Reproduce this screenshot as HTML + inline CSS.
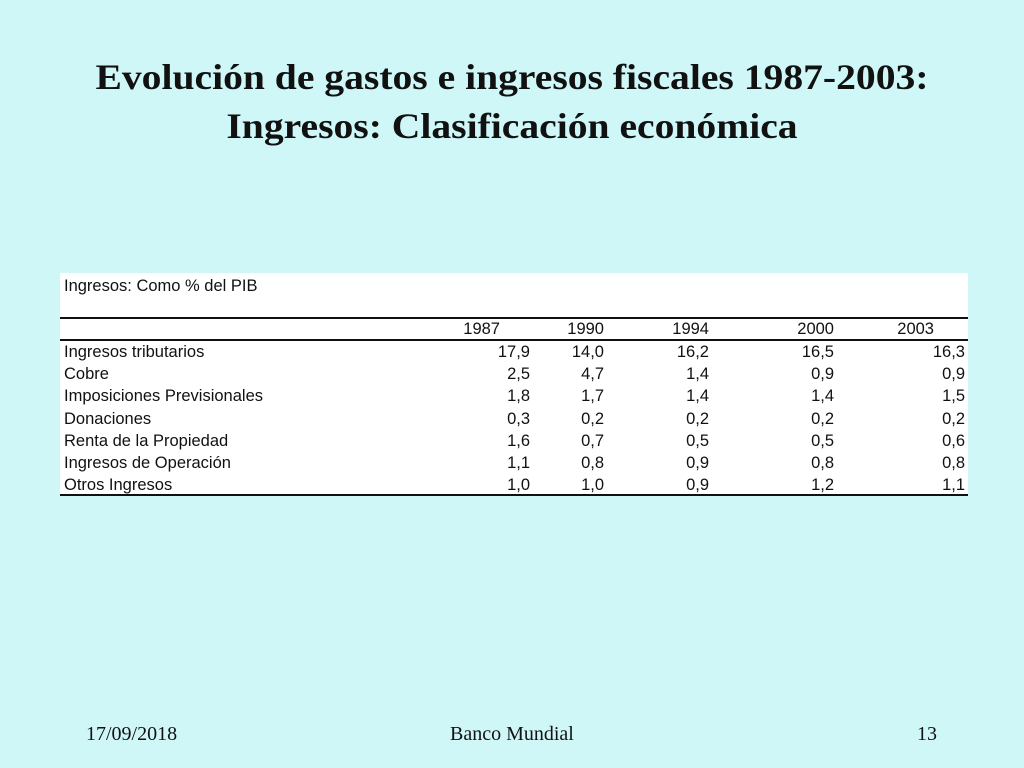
<!DOCTYPE html>
<html><head><meta charset="utf-8"><style>
body{margin:0;width:1024px;height:768px;background:#cff7f8;position:relative;overflow:hidden;font-family:"Liberation Sans",sans-serif}
.t{position:absolute;left:0;width:1024px;text-align:center;font-family:"Liberation Serif",serif;font-weight:bold;font-size:36px;color:#111;transform:scaleX(1.1);transform-origin:512px 0}
.f{position:absolute;top:723px;font-family:"Liberation Serif",serif;font-size:20px;color:#111}
#box{position:absolute;left:60px;top:273px;width:908px;height:222px;background:#fff}
.c{position:absolute;font-size:16.5px;color:#111;white-space:nowrap;line-height:18px}
.ln{position:absolute;left:60px;width:908px;background:#111}
</style></head><body>
<div class="t" style="top:56px">Evolución de gastos e ingresos fiscales 1987-2003:</div>
<div class="t" style="top:105px">Ingresos: Clasificación económica</div>
<div id="box"></div>
<div class="c" style="left:64px;top:277px">Ingresos: Como % del PIB</div>
<div class="ln" style="top:317px;height:2px"></div>
<div class="ln" style="top:339px;height:2px"></div>
<div class="ln" style="top:494px;height:2px"></div>
<div class="f" style="left:86px">17/09/2018</div>
<div class="f" style="left:450px">Banco Mundial</div>
<div class="f" style="left:917px">13</div>
<script>
const years=["1987","1990","1994","2000","2003"];
const rows=["Ingresos tributarios","Cobre","Imposiciones Previsionales","Donaciones","Renta de la Propiedad","Ingresos de Operación","Otros Ingresos"];
const v1987=["17,9","2,5","1,8","0,3","1,6","1,1","1,0"];
const v1990=["14,0","4,7","1,7","0,2","0,7","0,8","1,0"];
const v1994=["16,2","1,4","1,4","0,2","0,5","0,9","0,9"];
const v2000=["16,5","0,9","1,4","0,2","0,5","0,8","1,2"];
const v2003=["16,3","0,9","1,5","0,2","0,6","0,8","1,1"];
const cols=[v1987,v1990,v1994,v2000,v2003];
const yearRight=[500,604,709,834,934];
const valRight=[530,604,709,834,965];
function add(txt,left,right,top,name){
  const d=document.createElement('div');
  d.className='c';d.textContent=txt;d.style.top=top+'px';
  if(right!=null){d.style.right=(1024-right)+'px';}else d.style.left=left+'px';
  
  
  document.body.appendChild(d);
}
years.forEach((y,i)=>add(y,null,yearRight[i],320,'year-header-'+y));
rows.forEach((r,j)=>{
  const top=343+j*22.2;
  add(r,64,null,top,'row-label');
  cols.forEach((c,i)=>add(c[j],null,valRight[i],top,'cell-'+years[i]));
});
</script>
</body></html>
